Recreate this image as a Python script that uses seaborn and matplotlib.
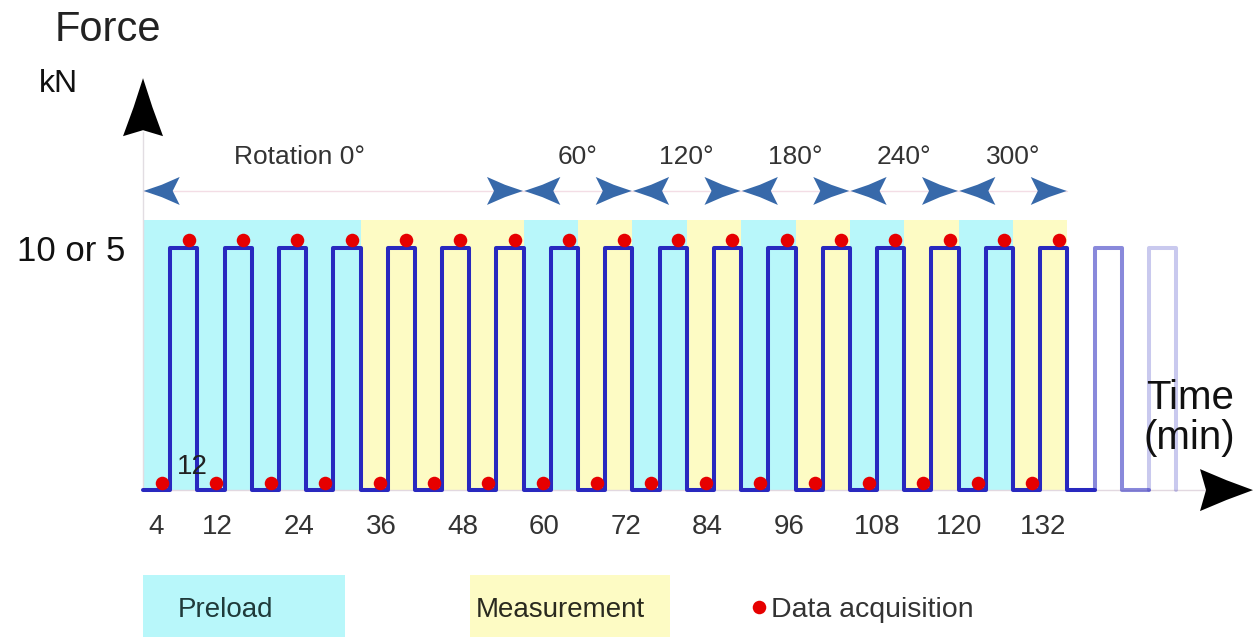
"""
Loading protocol sketch: square-wave force vs. time with preload /
measurement phases, rotation steps and data acquisition points.
"""

import numpy as np
import pandas as pd
import matplotlib
matplotlib.use("Agg")
import matplotlib.pyplot as plt
import seaborn as sns

# ---- data -------------------------------------------------------------
# force steps (min, kN-level), drawn as steps-post
step_time = [0, 4, 8, 12, 16, 20, 24, 28, 32, 36, 40, 44, 48, 52, 56, 60, 64, 68,
             72, 76, 80, 84, 88, 92, 96, 100, 104, 108, 112, 116, 120, 124, 128,
             132, 136, 140]
step_force = [0, 10, 0, 10, 0, 10, 0, 10, 0, 10, 0, 10, 0, 10, 0, 10, 0, 10,
              0, 10, 0, 10, 0, 10, 0, 10, 0, 10, 0, 10, 0, 10, 0,
              10, 0, 0]

# faded continuation pulses
fade1_time = [140, 140, 144, 148]
fade1_force = [0, 10, 0, 0]
fade2_time = [148, 148, 152]
fade2_force = [0, 10, 0]

# data acquisition points
acq_low_time = [2.8, 10.8, 18.8, 26.8, 34.8, 42.8, 50.8, 58.8, 66.8, 74.8, 82.8,
                90.8, 98.8, 106.8, 114.8, 122.8, 130.8]
acq_high_time = [6.7, 14.7, 22.7, 30.7, 38.7, 46.7, 54.7, 62.7, 70.7, 78.7, 86.7,
                 94.7, 102.7, 110.7, 118.7, 126.7, 134.7]
acq_low_force = 0.3
acq_high_force = 10.35

# phases
preload_start = [0, 56, 72, 88, 104, 120]
preload_end = [32, 64, 80, 96, 112, 128]
measure_start = [32, 64, 80, 96, 112, 128]
measure_end = [56, 72, 88, 104, 120, 136]

# rotation steps
rotation_labels = ["Rotation 0°", "60°", "120°", "180°", "240°", "300°"]
rotation_start = [0, 56, 72, 88, 104, 120]
rotation_end = [56, 72, 88, 104, 120, 136]
rotation_label_x = [23, 64, 80, 96, 112, 128]

# time axis labels
tick_pos = [2, 11, 23, 35, 47, 59, 71, 83, 95, 108, 120, 132.4]
tick_labels = ["4", "12", "24", "36", "48", "60", "72", "84", "96", "108", "120", "132"]

# ---- style --------------------------------------------------------------
CYAN = "#b8f7fa"
YELLOW = "#fdfbc4"
BLUE = "#2828bf"
RED = "#e60000"
ARROW_BLUE = "#3769aa"
TXT = "#333333"

sns.set_theme(style="white")
plt.rcParams["font.family"] = ["Liberation Sans", "DejaVu Sans"]

fig = plt.figure(figsize=(12.56, 6.37), dpi=100)
ax = fig.add_axes([0, 0, 1, 1])
ax.set_xlim(-21.04, 163.74)
ax.set_ylim(-6.07, 20.25)
ax.set_facecolor("white")

# pixels per data unit (for arrowhead shapes)
PX_T = 1256 / (163.74 + 21.04)
PX_V = 637 / (20.25 + 6.07)

BAND_TOP = 11.16

# phase backgrounds
for a, b in zip(preload_start, preload_end):
    ax.fill_between([a, b], 0, BAND_TOP, color=CYAN, lw=0, zorder=0)
for a, b in zip(measure_start, measure_end):
    ax.fill_between([a, b], 0, BAND_TOP, color=YELLOW, lw=0, zorder=0)

# force trace
df = pd.DataFrame({"time": step_time, "force": step_force})
sns.lineplot(data=df, x="time", y="force", drawstyle="steps-post", color=BLUE,
             lw=2.9, ax=ax, zorder=3)
sns.lineplot(x=fade1_time, y=fade1_force, drawstyle="steps-post", color=BLUE,
             lw=2.9, alpha=0.55, estimator=None, sort=False, ax=ax, zorder=3)
sns.lineplot(x=fade2_time, y=fade2_force, drawstyle="steps-post", color=BLUE,
             lw=2.9, alpha=0.25, estimator=None, sort=False, ax=ax, zorder=3)

# acquisition points
sns.scatterplot(x=acq_low_time, y=[acq_low_force] * len(acq_low_time), color=RED,
                s=95, linewidth=0, ax=ax, zorder=4)
sns.scatterplot(x=acq_high_time, y=[acq_high_force] * len(acq_high_time), color=RED,
                s=95, linewidth=0, ax=ax, zorder=4)


def stealth(tip_t, tip_v, direction, length, half_w, notch, color, bend=0.44):
    """Arrowhead with slightly concave sides and back; sizes in pixels."""
    # local shape, tip at origin pointing +x
    px = np.array([0, -0.5 * length, -length, -length + notch, -length, -0.5 * length])
    py = np.array([0, bend * half_w, half_w, 0, -half_w, -bend * half_w])
    if direction == "right":
        dx, dy = px, py
    elif direction == "left":
        dx, dy = -px, py
    else:  # up
        dx, dy = py, px
    ax.fill(tip_t + dx / PX_T, tip_v + dy / PX_V, color=color, lw=0, zorder=5,
            clip_on=False)


# rotation arrows
ROW_V = 12.36
ax.plot([0, 136], [ROW_V, ROW_V], color="#f3dde5", lw=1, zorder=1)
for a, b in zip(rotation_start, rotation_end):
    stealth(a + 0.1, ROW_V, "left", 36, 14, 7, ARROW_BLUE)
    stealth(b - 0.1, ROW_V, "right", 36, 14, 7, ARROW_BLUE)
for lab, x in zip(rotation_labels, rotation_label_x):
    ax.text(x, 13.76, lab, ha="center", va="center", fontsize=19, color=TXT)

# axes as spines through the origin
for side in ("top", "right"):
    ax.spines[side].set_visible(False)
ax.spines["left"].set_position(("data", 0))
ax.spines["bottom"].set_position(("data", 0))
ax.spines["left"].set_bounds(0, 14.8)
ax.spines["bottom"].set_bounds(0, 157)
ax.spines["left"].set_color("#e2dde2")
ax.spines["bottom"].set_color("#e2d8e0")
ax.spines["left"].set_linewidth(1)
ax.spines["bottom"].set_linewidth(1)

ax.set_xticks(tick_pos, tick_labels)
ax.set_xticks(np.arange(0, 156, 4), minor=True)
ax.tick_params(axis="x", which="major", length=0, pad=17, labelsize=20, labelcolor=TXT)
ax.tick_params(axis="x", which="minor", length=7, width=1, color="#f5d9e6", direction="out")
ax.set_yticks([10], ["10 or 5"])
ax.tick_params(axis="y", length=9, width=1.2, color="#c8c8c8", direction="in",
               pad=13, labelsize=25, labelcolor="#111111")
ax.set_xlabel("")
ax.set_ylabel("")

# axis arrowheads
stealth(0, 17.02, "up", 58, 20, 6, "black", bend=0.47)
stealth(163.3, 0, "right", 53, 21, 6, "black", bend=0.47)

# axis titles
ax.text(-5.15, 19.0, "Force", ha="center", va="center", fontsize=30, color="#222222")
ax.text(-12.5, 16.78, "kN", ha="center", va="center", fontsize=23, color="#111111")
ax.text(154.0, 2.98, "Time\n(min)", ha="center", va="center", fontsize=29,
        color="#111111", linespacing=1.05)
ax.text(7.2, 0.95, "12", ha="center", va="center", fontsize=20, color="#222222", zorder=6)

# legend
ax.fill_between([0, 29.7], -6.2, -3.51, color=CYAN, lw=0, clip_on=False)
ax.text(5.15, -4.96, "Preload", ha="left", va="center", fontsize=20, color="#1f3a3a")
ax.fill_between([48.1, 77.5], -6.2, -3.51, color=YELLOW, lw=0, clip_on=False)
ax.text(49.0, -4.96, "Measurement", ha="left", va="center", fontsize=20, color="#2a2a1f")
sns.scatterplot(x=[90.6], y=[-4.83], color=RED, s=95, linewidth=0, ax=ax)
ax.text(92.4, -4.96, "Data acquisition", ha="left", va="center", fontsize=20.5, color=TXT)

fig.savefig("out.png", dpi=100)
